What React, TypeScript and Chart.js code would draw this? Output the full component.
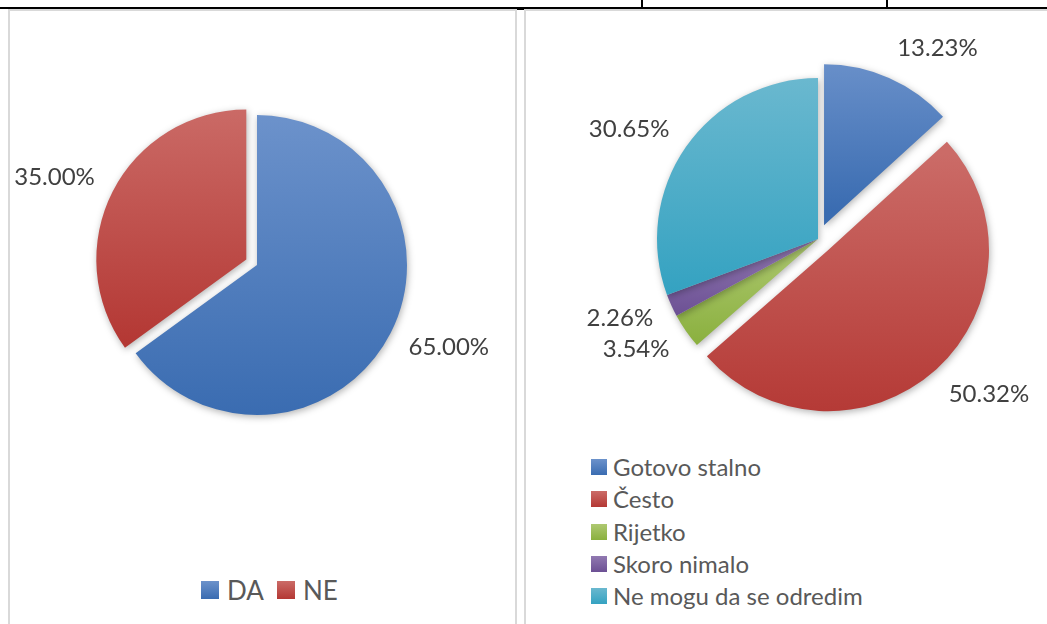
import React, { useEffect, useRef } from "react";
import { Chart, registerables, ArcElement, PieController } from "chart.js";

Chart.register(...registerables);

// ---------- data ----------
const leftLabels = ["DA", "NE"];
const leftValues = [65.0, 35.0];
const leftColors = [
  ["#6C92CB", "#3A6CB1"],
  ["#CB6B67", "#B43834"],
];
const leftExplode = [0, 12];

const rightLabels = ["Gotovo stalno", "Često", "Rijetko", "Skoro nimalo", "Ne mogu da se odredim"];
const rightValues = [13.23, 50.32, 3.54, 2.26, 30.65];
const rightColors = [
  ["#6C92CB", "#3A6CB1"],
  ["#CB6B67", "#B43834"],
  ["#AEC871", "#8AB03E"],
  ["#9179B1", "#6C5094"],
  ["#6AB8CF", "#34A2C1"],
];
const rightExplode = [15, 15, 0, 0, 0];

// ---------- custom exploded arc ----------
class ExplodedArc extends (ArcElement as any) {
  static id = "explodedArc";
  static defaults = { ...(ArcElement as any).defaults, explode: 0 };
  static defaultRoutes = (ArcElement as any).defaultRoutes;
  draw(ctx: CanvasRenderingContext2D) {
    const self: any = this;
    const ex = (self.options && self.options.explode) || 0;
    const mid = (self.startAngle + self.endAngle) / 2;
    ctx.save();
    ctx.translate(Math.cos(mid) * ex, Math.sin(mid) * ex);
    super.draw(ctx);
    ctx.restore();
  }
}
class ExplodedPieController extends (PieController as any) {
  static id = "explodedPie";
  static defaults = { ...(PieController as any).defaults, dataElementType: "explodedArc" };
}
Chart.register(ExplodedArc as any, ExplodedPieController as any);

function sliceGradient(context: any, values: number[], colors: string[][], explode: number[], radius: number) {
  const chart = context.chart;
  const i = context.dataIndex ?? 0;
  const area = chart.chartArea;
  if (!area) return colors[i][0];
  const cy = (area.top + area.bottom) / 2;
  const total = values.reduce((a, b) => a + b, 0);
  let acc = 0;
  for (let k = 0; k < i; k++) acc += values[k];
  const start = -Math.PI / 2 + (2 * Math.PI * acc) / total;
  const end = start + (2 * Math.PI * values[i]) / total;
  const mid = (start + end) / 2;
  const oy = Math.sin(mid) * (explode[i] || 0);
  const ys = [0, radius * Math.sin(start), radius * Math.sin(end)];
  for (const a of [-Math.PI / 2, Math.PI / 2, (3 * Math.PI) / 2]) {
    if (a >= start && a <= end) ys.push(radius * Math.sin(a));
  }
  const top = cy + oy + Math.min(...ys);
  const bottom = cy + oy + Math.max(...ys);
  const g = chart.ctx.createLinearGradient(0, top, 0, bottom + 0.01);
  g.addColorStop(0, colors[i][0]);
  g.addColorStop(1, colors[i][1]);
  return g;
}

const shadowPlugin = {
  id: "sliceShadow",
  beforeDatasetsDraw(chart: any) {
    const ctx = chart.ctx;
    ctx.save();
    ctx.shadowColor = "rgba(0,0,0,0.30)";
    ctx.shadowBlur = 7;
    ctx.shadowOffsetX = 1;
    ctx.shadowOffsetY = 2;
  },
  afterDatasetsDraw(chart: any) {
    chart.ctx.restore();
  },
};

const labelPlugin = {
  id: "pctLabels",
  afterDatasetsDraw(chart: any, _args: any, opts: any) {
    const ctx = chart.ctx;
    const meta = chart.getDatasetMeta(0);
    const data = chart.data.datasets[0].data;
    ctx.save();
    ctx.font = opts.font;
    ctx.fillStyle = opts.color;
    ctx.textBaseline = "middle";
    meta.data.forEach((arc: any, i: number) => {
      const p = arc.getProps(["x", "y", "startAngle", "endAngle", "outerRadius"], true);
      const ex = (arc.options && arc.options.explode) || 0;
      const mid = (p.startAngle + p.endAngle) / 2;
      const c = Math.cos(mid);
      const s = Math.sin(mid);
      const d = p.outerRadius + ex + opts.distance;
      const x = p.x + c * d;
      const y = p.y + s * d + s * opts.shiftY;
      ctx.textAlign = c >= 0 ? "left" : "right";
      ctx.fillText(Number(data[i]).toFixed(2) + "%", x, y);
    });
    ctx.restore();
  },
};

function PieCanvas(props: {
  labels: string[];
  values: number[];
  colors: string[][];
  explode: number[];
  width: number;
  height: number;
  cx: number;
  cy: number;
  radius: number;
}) {
  const ref = useRef<HTMLCanvasElement | null>(null);
  useEffect(() => {
    if (!ref.current) return;
    const { labels, values, colors, explode, width, height, cx, cy, radius } = props;
    const half = radius + Math.max(...explode) + 4;
    const chart = new Chart(ref.current, {
      type: "explodedPie" as any,
      data: {
        labels,
        datasets: [
          {
            data: values,
            backgroundColor: (ctx: any) => sliceGradient(ctx, values, colors, explode, radius),
            borderWidth: 0,
            explode,
            clip: false,
          } as any,
        ],
      },
      options: {
        responsive: false,
        animation: false,
        radius,
        layout: {
          padding: {
            left: cx - half,
            right: width - cx - half,
            top: cy - half,
            bottom: height - cy - half,
          },
        },
        plugins: {
          legend: { display: false },
          tooltip: { enabled: false },
          title: { display: false },
          pctLabels: { font: "24px Lato", color: "#404040", distance: 20, shiftY: 12 },
        } as any,
      } as any,
      plugins: [shadowPlugin, labelPlugin],
    });
    return () => chart.destroy();
  }, []);
  return <canvas ref={ref} width={props.width} height={props.height} style={{ width: props.width, height: props.height, display: "block" }} />;
}

function Swatch({ colors, size }: { colors: string[]; size: number }) {
  return (
    <span
      style={{
        display: "inline-block",
        width: size,
        height: size,
        background: `linear-gradient(${colors[0]}, ${colors[1]})`,
      }}
    />
  );
}

export default function App() {
  useEffect(() => {
    document.body.style.margin = "0";
  }, []);
  const gray = "#D9D9D9";
  return (
    <div style={{ position: "fixed", left: 0, top: 0, width: 1047, height: 624, overflow: "hidden", background: "#fff", fontFamily: "Lato, sans-serif" }}>
      {/* table lines */}
      <div style={{ position: "absolute", left: 0, top: 7, width: 1047, height: 2, background: "#000" }} />
      <div style={{ position: "absolute", left: 641, top: 0, width: 2, height: 8, background: "#000" }} />
      <div style={{ position: "absolute", left: 886, top: 0, width: 2, height: 8, background: "#000" }} />
      <div style={{ position: "absolute", left: 517, top: 7, width: 7, height: 3, background: "#000" }} />
      {/* chart boxes */}
      <div style={{ position: "absolute", left: 8, top: 9, width: 509, height: 640, boxSizing: "border-box", border: `2px solid ${gray}` }} />
      <div style={{ position: "absolute", left: 524, top: 9, width: 560, height: 640, boxSizing: "border-box", border: `2px solid ${gray}` }} />

      {/* left pie */}
      <div style={{ position: "absolute", left: 10, top: 11 }}>
        <PieCanvas labels={leftLabels} values={leftValues} colors={leftColors} explode={leftExplode} width={505} height={540} cx={247} cy={254} radius={150} />
      </div>
      {/* left legend */}
      <div style={{ position: "absolute", left: 201, top: 572, display: "flex", alignItems: "center", height: 36, fontSize: 26, color: "#595959" }}>
        {leftLabels.map((l, i) => (
          <span key={l} style={{ display: "flex", alignItems: "center", marginRight: 13 }}>
            <Swatch colors={leftColors[i]} size={18} />
            <span style={{ marginLeft: 8, lineHeight: "36px" }}>{l}</span>
          </span>
        ))}
      </div>

      {/* right pie */}
      <div style={{ position: "absolute", left: 527, top: 11 }}>
        <PieCanvas labels={rightLabels} values={rightValues} colors={rightColors} explode={rightExplode} width={520} height={430} cx={291} cy={228} radius={161} />
      </div>
      {/* right legend */}
      <div style={{ position: "absolute", left: 591, top: 451, fontSize: 24, color: "#595959" }}>
        {rightLabels.map((l, i) => (
          <div key={l} style={{ display: "flex", alignItems: "center", height: 32.3 }}>
            <Swatch colors={rightColors[i]} size={16} />
            <span style={{ marginLeft: 6, lineHeight: "32px" }}>{l}</span>
          </div>
        ))}
      </div>
    </div>
  );
}
